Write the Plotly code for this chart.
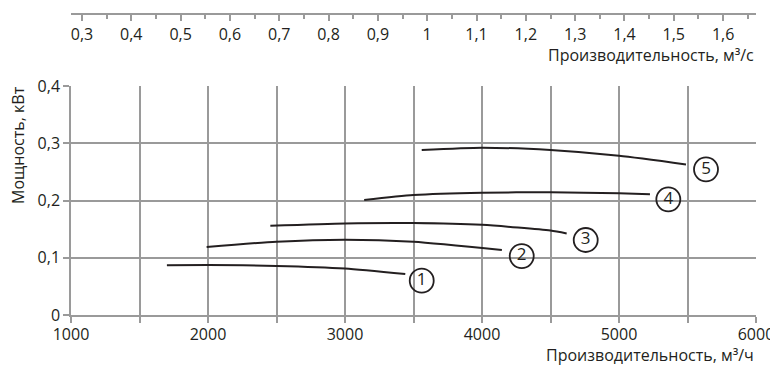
import plotly.graph_objects as go

# Data (flow m3/h, power kW)
c1_x = [1700, 2000, 2500, 3000, 3440]
c1_y = [0.087, 0.0873, 0.0858, 0.0812, 0.0716]
c2_x = [1990, 2500, 3000, 3500, 4145]
c2_y = [0.1188, 0.128, 0.1316, 0.1278, 0.1135]
c3_x = [2455, 3000, 3500, 4000, 4500, 4618]
c3_y = [0.156, 0.160, 0.1607, 0.1575, 0.1475, 0.1425]
c4_x = [3140, 3500, 4000, 4500, 5000, 5226]
c4_y = [0.2009, 0.2096, 0.2137, 0.2143, 0.2125, 0.2108]
c5_x = [3560, 4000, 4500, 5000, 5489]
c5_y = [0.2882, 0.2923, 0.288, 0.278, 0.263]
curves = [(c1_x, c1_y), (c2_x, c2_y), (c3_x, c3_y), (c4_x, c4_y), (c5_x, c5_y)]

label_text = ["1", "2", "3", "4", "5"]
label_x = [3560, 4290, 4757, 5360, 5635]
label_y = [0.060, 0.103, 0.131, 0.202, 0.2545]

FONT = "Open Sans"
GRID = "#9a9a9a"
INK = "#231f20"
FS = 16

fig = go.Figure()
for cx, cy in curves:
    fig.add_trace(go.Scatter(x=cx, y=cy, mode="lines",
                             line=dict(color=INK, width=2, shape="spline", smoothing=0.6),
                             showlegend=False, hoverinfo="skip"))

fig.add_trace(go.Scatter(x=label_x, y=label_y, mode="markers+text", text=label_text,
                         textposition="middle center",
                         textfont=dict(family=FONT, size=17, color=INK),
                         marker=dict(symbol="circle-open", size=24, color=INK,
                                     line=dict(width=1.8, color=INK)),
                         showlegend=False, hoverinfo="skip"))

# invisible trace for top axis
fig.add_trace(go.Scatter(x=[1000 / 3600, 6000 / 3600], y=[0, 0], xaxis="x2", mode="markers",
                         marker=dict(opacity=0), showlegend=False, hoverinfo="skip"))

# page body has an 8px margin: figure occupies 8..778 x 8..367
W, H = 770, 359
H_PAPER = H - 6 - 52
top_domain = (315 - 86) / H_PAPER

fig.update_layout(
    width=W, height=H,
    margin=dict(l=63, r=22, t=6, b=52, autoexpand=False),
    paper_bgcolor="white", plot_bgcolor="white",
    separators=", ",
    font=dict(family=FONT, size=FS, color=INK),
    xaxis=dict(range=[1000, 6000], dtick=1000, tick0=1000, showgrid=True, gridcolor=GRID, gridwidth=1.5,
               showline=True, linecolor=GRID, linewidth=1.5, ticks="outside", ticklen=6,
               tickcolor=GRID, tickwidth=1.5, zeroline=False, automargin=False,
               ticklabelstandoff=-2,
               minor=dict(dtick=500, tick0=1000, showgrid=True, gridcolor=GRID, gridwidth=1.5,
                          ticks="outside", ticklen=6, tickcolor=GRID, tickwidth=1.5),
               tickfont=dict(size=FS, color=INK)),
    yaxis=dict(range=[0, 0.4], dtick=0.1, domain=[0, top_domain], showgrid=True, gridcolor=GRID,
               gridwidth=1.5, showline=True, linecolor=GRID, linewidth=1.5, ticks="outside",
               ticklen=6, tickcolor=GRID, tickwidth=1.5, zeroline=False, automargin=False,
               tickfont=dict(size=FS, color=INK)),
    xaxis2=dict(range=[1000 / 3600, 6000 / 3600], overlaying="x", anchor="free", position=1,
                side="bottom", dtick=0.1, tick0=0.3, showgrid=False, showline=True, linecolor=GRID,
                linewidth=1.5, ticks="outside", ticklen=6, tickcolor=GRID, tickwidth=1.5,
                zeroline=False, automargin=False,
                minor=dict(dtick=0.05, tick0=0.3, ticks="outside", ticklen=4, tickcolor=GRID,
                           tickwidth=1.5),
                tickfont=dict(size=FS, color=INK)),
    annotations=[
        dict(text="Производительность, м³/с", xref="paper", yref="paper", x=1.0, y=(315 - 55) / H_PAPER,
             xanchor="right", yanchor="middle", showarrow=False, font=dict(size=FS, color=INK)),
        dict(text="Производительность, м³/ч", xref="paper", yref="paper", x=1.0, y=(315 - 355) / H_PAPER,
             xanchor="right", yanchor="middle", showarrow=False, font=dict(size=FS, color=INK)),
        dict(text="Мощность, кВт", xref="paper", yref="paper", x=(18 - 71) / 685, y=(315 - 145) / H_PAPER,
             xanchor="center", yanchor="middle", textangle=-90, showarrow=False,
             font=dict(size=FS, color=INK)),
    ],
)

fig.write_html("out.html")
